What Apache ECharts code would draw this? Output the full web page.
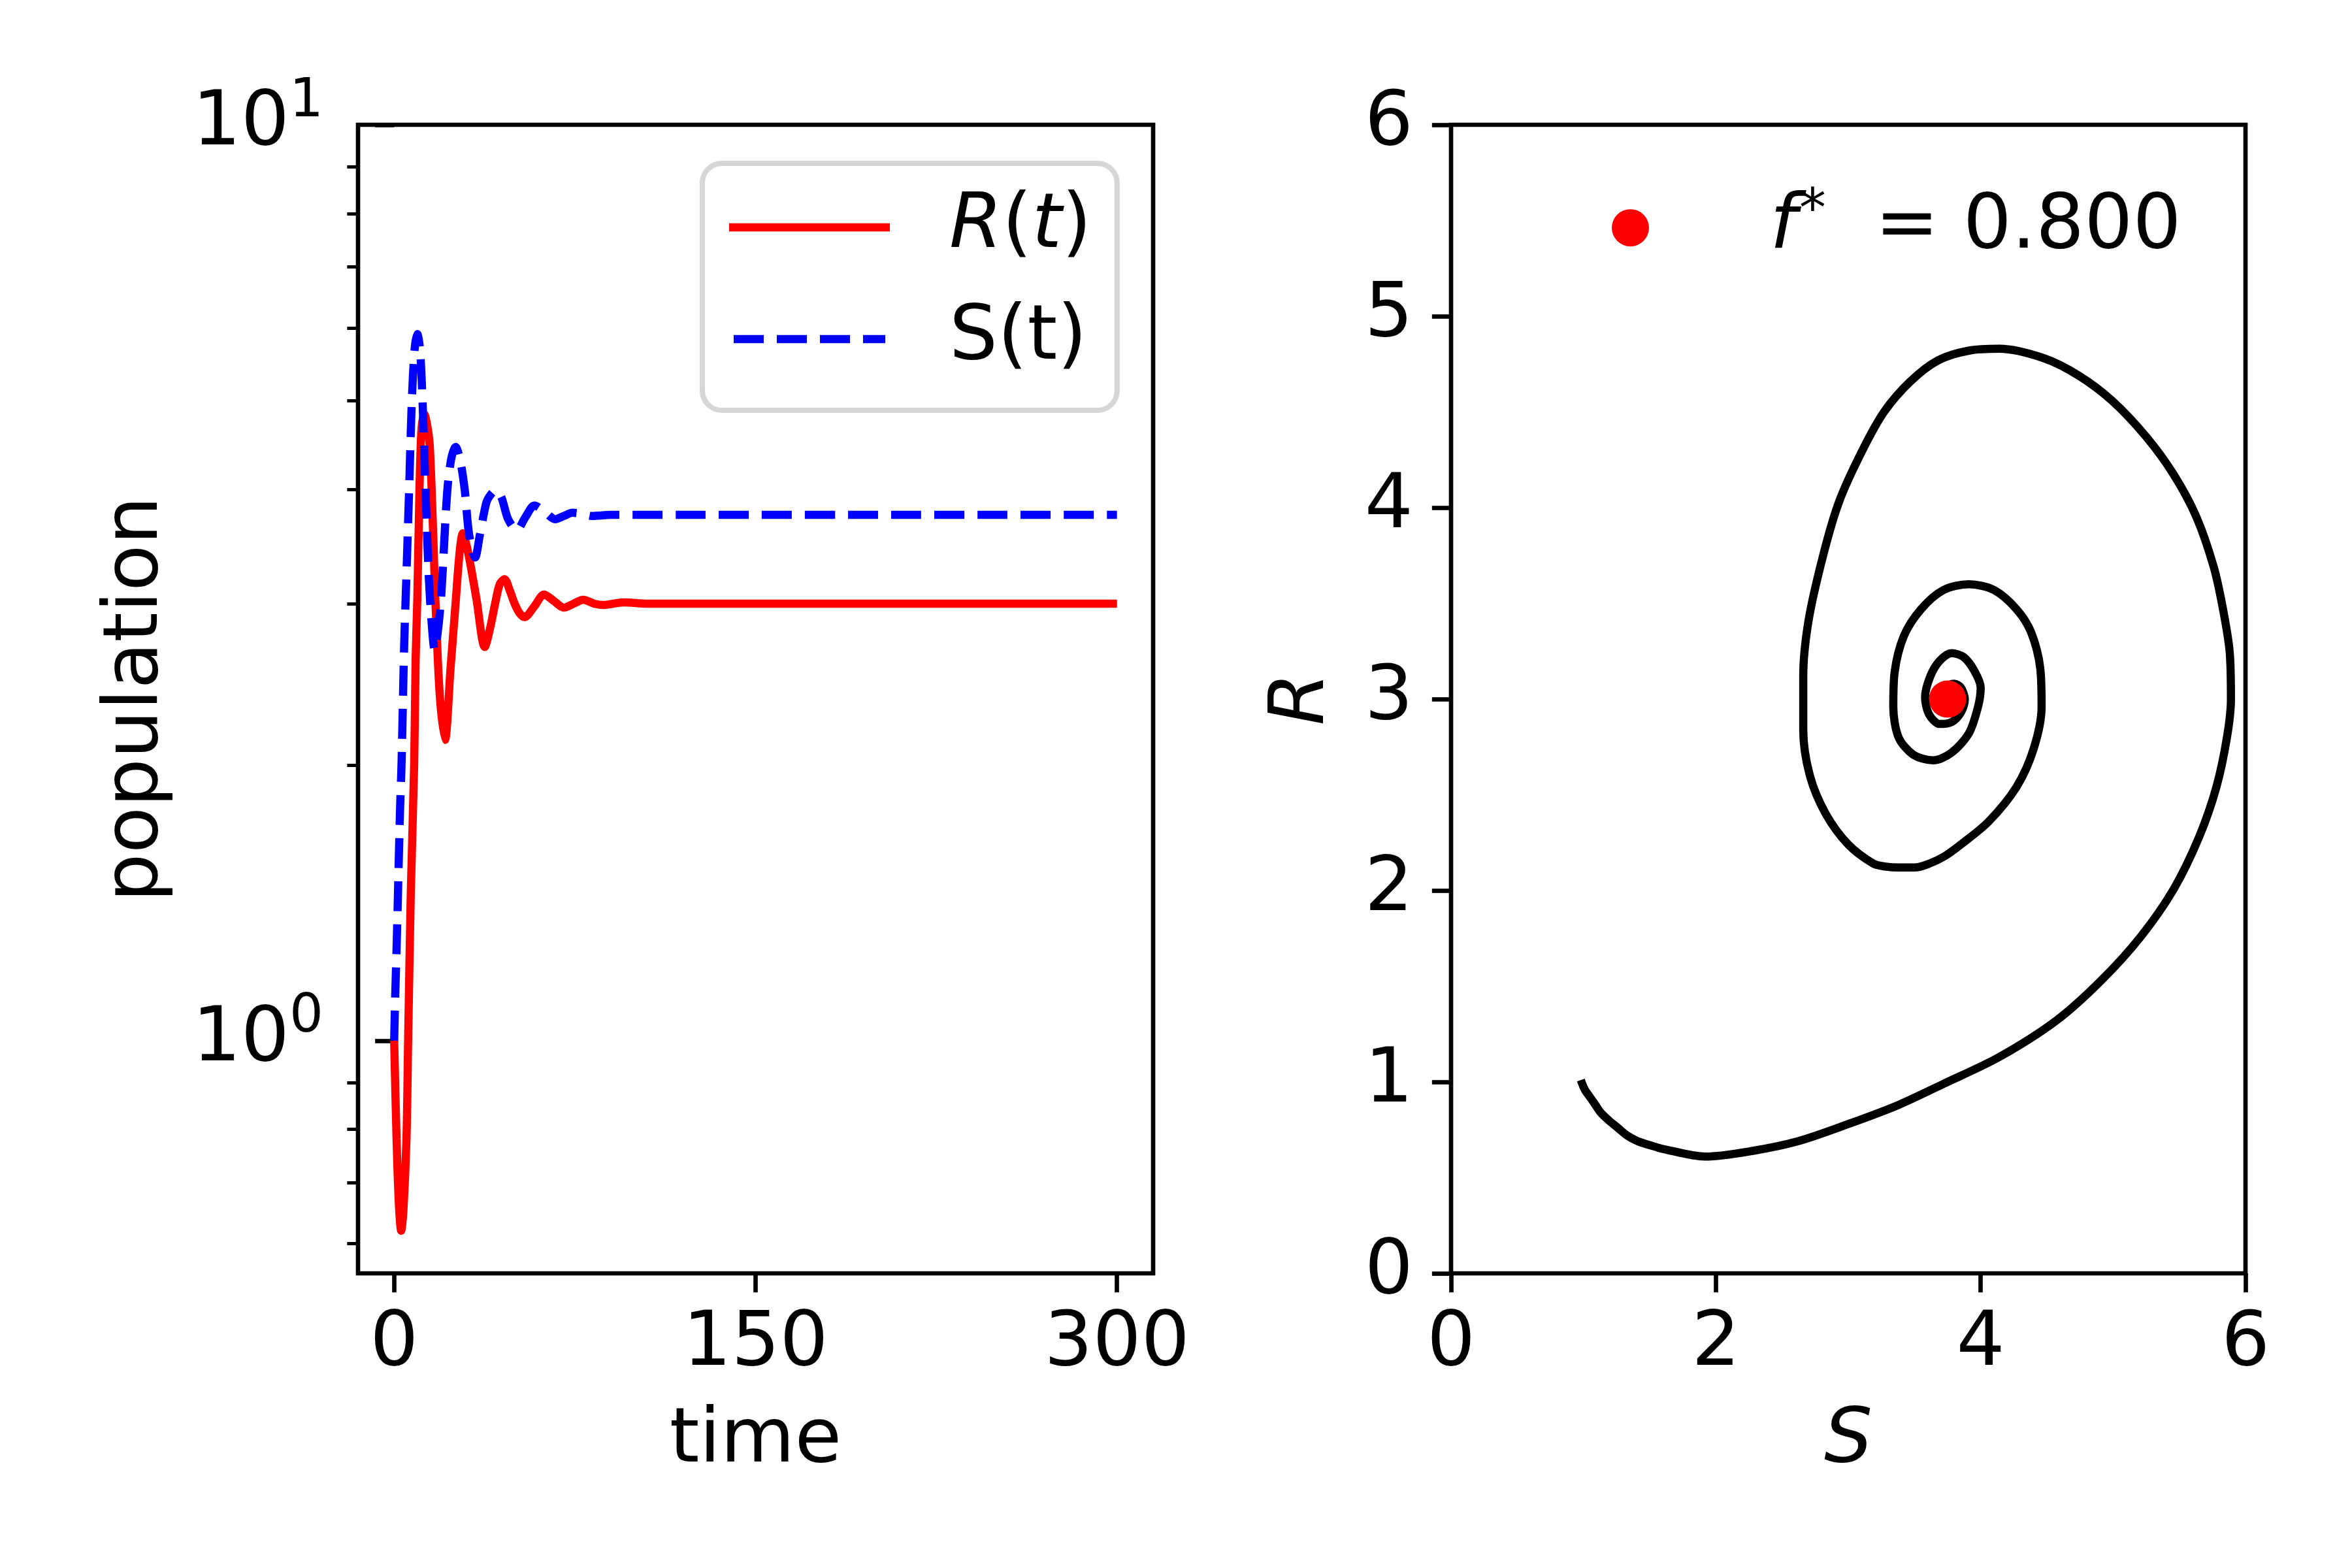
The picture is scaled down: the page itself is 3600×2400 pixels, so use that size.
<!DOCTYPE html>
<html>
<head>
<meta charset="utf-8">
<script src="https://cdn.jsdelivr.net/npm/echarts@6/dist/echarts.min.js"></script>
<style>
  html, body { margin: 0; padding: 0; background: #fff; }
  #main { width: 3600px; height: 2400px; }
</style>
</head>
<body>
<div id="main"></div>
<script>
// time series
const timeR = [0, 1.0, 2.0, 2.9, 3.8, 5.1, 5.8, 6.9, 8.3, 8.9, 9.6, 10.5, 11.0, 11.5, 12.5, 13.7, 14.8, 16.2, 17.1, 18.9,
  21.1, 23.4, 25.6, 27.2, 28.5, 30.3, 32.2, 34.2, 37.6, 39.8, 41.9, 43.8, 45.8, 48.0, 50.0, 52.0, 54.1, 58.2, 62.2, 66.3,
  70.4, 74.5, 78.5, 83.0, 87.1, 95.2, 105, 120, 150, 200, 250, 300];
const popR = [1.00, 0.78, 0.66, 0.62, 0.65, 0.78, 1.00, 1.45, 2.00, 2.60, 3.03, 3.99, 4.45, 4.70, 4.83, 4.70, 4.45, 3.57, 3.03, 2.39,
  2.13, 2.55, 3.03, 3.42, 3.58, 3.45, 3.25, 3.03, 2.69, 2.82, 3.00, 3.15, 3.19, 3.10, 3.00, 2.93, 2.90, 2.98, 3.07, 3.02,
  2.97, 3.00, 3.03, 3.00, 2.99, 3.01, 3.00, 3.00, 3.00, 3.00, 3.00, 3.00];

const timeS = [0, 0.4, 1.0, 1.45, 1.9, 2.45, 3.05, 4.15, 5.05, 6.2, 7.3, 8.5, 9.6, 10.7, 11.8, 13.0, 14.4, 15.6, 16.8, 18.0,
  19.5, 22.0, 23.7, 25.5, 27.4, 29.3, 31.1, 33.6, 35.6, 38.3, 40.2, 42.2, 44.5, 47.3, 50.9, 54.5, 58.2, 62.5, 66.8, 70.5,
  74.0, 78.0, 82.0, 90.0, 100, 120, 150, 200, 250, 300];
const popS = [1.00, 1.11, 1.26, 1.40, 1.57, 1.79, 2.00, 2.70, 3.20, 3.99, 4.97, 5.69, 5.91, 5.70, 4.97, 3.99, 3.20, 2.85, 2.67, 2.78,
  3.05, 3.97, 4.32, 4.45, 4.30, 3.99, 3.57, 3.37, 3.57, 3.87, 3.95, 3.99, 3.92, 3.71, 3.61, 3.73, 3.84, 3.78, 3.71, 3.74,
  3.77, 3.76, 3.74, 3.75, 3.75, 3.75, 3.75, 3.75, 3.75, 3.75];

// phase portrait (S, R)
const phaseS = [0.98, 1.01, 1.05, 1.09, 1.13, 1.19, 1.26, 1.33, 1.41, 1.50, 1.60, 1.92, 2.28, 2.62, 3.00, 3.38, 3.72, 4.14,
  4.57, 4.91, 5.21, 5.46, 5.65, 5.78, 5.86, 5.89, 5.88, 5.83, 5.76, 5.63, 5.46, 5.25, 4.99, 4.74, 4.48, 4.14,
  3.91, 3.68, 3.47, 3.27, 3.10, 2.93, 2.81, 2.70, 2.66, 2.66, 2.71, 2.83, 3.00, 3.19, 3.28, 3.38, 3.50, 3.61,
  3.73, 3.85, 4.06, 4.27, 4.40, 4.46, 4.45, 4.38, 4.27, 4.10, 3.91, 3.72, 3.55, 3.42, 3.35, 3.34, 3.38, 3.49,
  3.64, 3.78, 3.91, 3.98, 4.00, 3.95, 3.87, 3.78, 3.69, 3.62, 3.58, 3.61, 3.69, 3.78, 3.85, 3.88, 3.85, 3.80,
  3.73, 3.70, 3.72, 3.77, 3.79, 3.76];
const phaseR = [1.01, 0.96, 0.92, 0.88, 0.84, 0.80, 0.76, 0.72, 0.69, 0.67, 0.65, 0.61, 0.64, 0.69, 0.78, 0.88, 0.99, 1.13,
  1.32, 1.53, 1.76, 2.01, 2.28, 2.54, 2.80, 3.00, 3.25, 3.47, 3.69, 3.95, 4.17, 4.37, 4.56, 4.69, 4.78, 4.83,
  4.82, 4.77, 4.66, 4.50, 4.29, 4.03, 3.75, 3.41, 3.12, 2.84, 2.60, 2.40, 2.24, 2.14, 2.125, 2.12, 2.12, 2.14,
  2.18, 2.24, 2.36, 2.54, 2.74, 2.96, 3.16, 3.35, 3.47, 3.57, 3.60, 3.57, 3.47, 3.33, 3.14, 2.96, 2.80, 2.71,
  2.68, 2.72, 2.82, 2.96, 3.06, 3.15, 3.22, 3.24, 3.20, 3.12, 3.01, 2.92, 2.87, 2.88, 2.93, 3.00, 3.06, 3.08,
  3.06, 3.01, 2.96, 2.96, 3.00, 3.02];
const fixedPoint = [3.75, 3.0];
const fStarLabel = '0.800';

// axis ticks
const timeTicks = [0, 150, 300];
const decadeTicks = [1, 10];
const minorLogTicks = [0.6, 0.7, 0.8, 0.9, 2, 3, 4, 5, 6, 7, 8, 9];
const popMin = 0.557;
const popMax = 10;

const pt = 600 / 72;
const font = 'DejaVu Sans';
const fs = 14 * pt;
const lw = 1.5 * pt;

const chart = echarts.init(document.getElementById('main'));

const txt = { fontFamily: font, fontSize: fs, color: '#000' };
const majorTick = { show: true, length: 3.5 * pt, lineStyle: { color: '#000', width: 0.8 * pt } };
const minorTick = { show: true, length: 2 * pt, lineStyle: { color: '#000', width: 0.6 * pt } };
const gridBox = { show: true, borderColor: '#000', borderWidth: 0.8 * pt, backgroundColor: 'transparent' };

// legend handles, drawn like matplotlib's: a solid bar and a dashed bar
const solidHandle = 'path://M0,0H246V12.5H0Z';
const dashedHandle = 'path://M0,0h46v12.5h-46z M66,0h46v12.5h-46z M132,0h46v12.5h-46z M198,0h34v12.5h-34z';

function pairs(xs, ys) {
  return xs.map((x, i) => [x, ys[i]]);
}

const option = {
  animation: false,
  backgroundColor: '#fff',
  grid: [
    Object.assign({ left: 548, top: 191, width: 1217, height: 1758 }, gridBox),
    Object.assign({ left: 2221, top: 191, width: 1216, height: 1758 }, gridBox)
  ],
  xAxis: [
    {
      gridIndex: 0, type: 'value', min: -15, max: 315,
      axisLine: { show: false }, splitLine: { show: false },
      axisTick: Object.assign({ customValues: timeTicks }, majorTick),
      axisLabel: Object.assign({ customValues: timeTicks, margin: 51 }, txt),
      name: 'time', nameLocation: 'middle', nameGap: 199, nameTextStyle: txt
    },
    {
      gridIndex: 1, type: 'value', min: 0, max: 6, interval: 2,
      axisLine: { show: false }, splitLine: { show: false },
      axisTick: majorTick,
      axisLabel: Object.assign({ margin: 51 }, txt),
      name: 'S', nameLocation: 'middle', nameGap: 199,
      nameTextStyle: Object.assign({ fontStyle: 'italic' }, txt)
    }
  ],
  yAxis: [
    {
      gridIndex: 0, type: 'log', logBase: 10, min: popMin, max: popMax, position: 'left',
      axisLine: { show: false }, splitLine: { show: false },
      axisTick: Object.assign({ customValues: decadeTicks }, majorTick),
      axisLabel: {
        customValues: decadeTicks, margin: 53,
        formatter: v => '{b|10}{s|' + Math.round(Math.log10(v)) + '}',
        rich: {
          b: { fontFamily: font, fontSize: fs, color: '#000', verticalAlign: 'bottom', lineHeight: fs, padding: [22, 0, 0, 0] },
          s: { fontFamily: font, fontSize: 0.7 * fs, color: '#000', verticalAlign: 'bottom', lineHeight: 0.7 * fs, padding: [0, 0, 52, 0] }
        }
      },
      name: 'population', nameLocation: 'middle', nameRotate: 90, nameGap: 280, nameTextStyle: txt
    },
    {
      gridIndex: 0, type: 'log', logBase: 10, min: popMin, max: popMax, position: 'left', offset: 0,
      axisLine: { show: false }, splitLine: { show: false },
      axisTick: Object.assign({ customValues: minorLogTicks }, minorTick),
      axisLabel: { show: false }
    },
    {
      gridIndex: 1, type: 'value', min: 0, max: 6, interval: 1,
      axisLine: { show: false }, splitLine: { show: false },
      axisTick: majorTick,
      axisLabel: Object.assign({ margin: 58, padding: [20, 0, 0, 0] }, txt),
      name: 'R', nameLocation: 'middle', nameRotate: 90, nameGap: 168,
      nameTextStyle: Object.assign({ fontStyle: 'italic' }, txt)
    }
  ],
  legend: [
    {
      data: [{ name: 'R(t)', icon: solidHandle }, { name: 'S(t)', icon: dashedHandle }],
      orient: 'vertical', left: 1075, top: 250,
      padding: [23, 39, 34, 41], itemGap: 21, itemWidth: 246, itemHeight: 12.5,
      itemStyle: { borderWidth: 0 },
      borderColor: '#d6d6d6', borderWidth: 8, borderRadius: 30, backgroundColor: 'rgba(255,255,255,0.8)',
      selectedMode: false,
      formatter: name => name === 'R(t)' ? '{i0|R}{n|(}{i|t}{n|)}' : '{n0|S(t)}',
      textStyle: {
        fontFamily: font, fontSize: fs, color: '#000', lineHeight: 150,
        rich: {
          i0: { fontFamily: font, fontSize: fs, fontStyle: 'italic', lineHeight: 150, padding: [0, 0, 0, 86] },
          i: { fontFamily: font, fontSize: fs, fontStyle: 'italic', lineHeight: 150 },
          n0: { fontFamily: font, fontSize: fs, lineHeight: 150, padding: [0, 0, 0, 86] },
          n: { fontFamily: font, fontSize: fs, lineHeight: 150 }
        }
      }
    },
    {
      data: ['fixed point'], left: 2467, top: 273, padding: 0,
      itemWidth: 57, itemHeight: 57, selectedMode: false,
      itemStyle: { opacity: 1 },
      formatter: () => '{f|f}{s|*}{n| = ' + fStarLabel + '}',
      textStyle: {
        fontFamily: font, fontSize: fs, color: '#000',
        rich: {
          f: { fontFamily: font, fontSize: fs, fontStyle: 'italic', verticalAlign: 'bottom', lineHeight: fs, padding: [17, 0, 0, 180] },
          s: { fontFamily: font, fontSize: 0.7 * fs, verticalAlign: 'bottom', lineHeight: 0.7 * fs, padding: [0, 0, 40, 4] },
          n: { fontFamily: font, fontSize: fs, verticalAlign: 'bottom', lineHeight: fs, padding: [17, 0, 0, 38] }
        }
      }
    }
  ],
  series: [
    {
      name: 'R(t)', type: 'line', xAxisIndex: 0, yAxisIndex: 0,
      data: pairs(timeR, popR), symbol: 'none', smooth: 0.3,
      lineStyle: { color: '#ff0000', width: lw, type: 'solid' },
      itemStyle: { color: '#ff0000' }
    },
    {
      name: 'S(t)', type: 'line', xAxisIndex: 0, yAxisIndex: 0,
      data: pairs(timeS, popS), symbol: 'none', smooth: 0.3,
      lineStyle: { color: '#0000ff', width: lw, type: [46, 20] },
      itemStyle: { color: '#0000ff' }
    },
    {
      name: 'trajectory', type: 'line', xAxisIndex: 1, yAxisIndex: 2,
      data: pairs(phaseS, phaseR), symbol: 'none', smooth: 0.3,
      lineStyle: { color: '#000', width: lw },
      itemStyle: { color: '#000' }
    },
    {
      name: 'fixed point', type: 'scatter', xAxisIndex: 1, yAxisIndex: 2,
      data: [fixedPoint], symbol: 'circle', symbolSize: 57,
      itemStyle: { color: '#ff0000', opacity: 1 }, z: 5
    }
  ]
};

chart.setOption(option);
</script>
</body>
</html>
